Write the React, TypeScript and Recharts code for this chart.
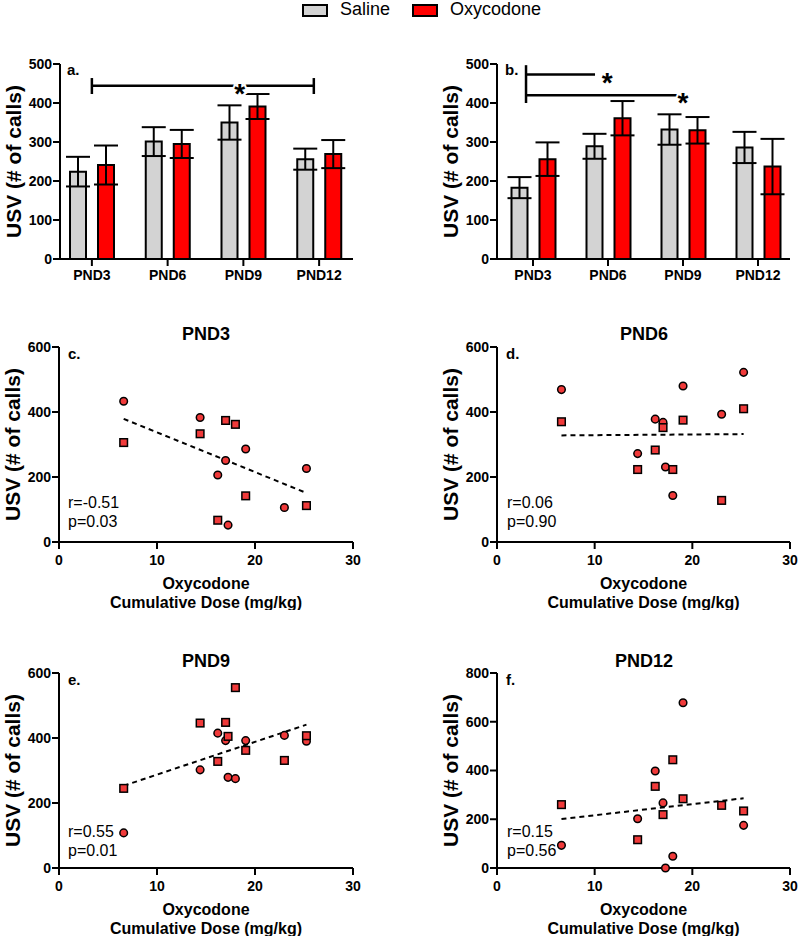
import React from 'react';
import {
  BarChart,
  Bar,
  ErrorBar,
  XAxis,
  YAxis,
  ReferenceLine,
  ReferenceDot,
  ScatterChart,
  Scatter,
} from 'recharts';

const FONT = '"Liberation Sans", Arial, Helvetica, sans-serif';
const GREY = '#d3d3d3';
const RED = '#ff0000';
const DOT_RED = '#f03a3a';

// bar panels
const days = ['PND3', 'PND6', 'PND9', 'PND12'];
const salineA = [224, 301, 350, 256];
const salineErrA = [38, 37, 44, 27];
const oxyA = [241, 295, 391, 269];
const oxyErrA = [50, 36, 32, 36];
const salineB = [183, 289, 332, 286];
const salineErrB = [27, 32, 39, 40];
const oxyB = [256, 361, 330, 237];
const oxyErrB = [43, 44, 34, 71];
const barTicks = [0, 100, 200, 300, 400, 500];

// scatter panels: one dose per litter, circles and squares share the doses
const doses = [6.6, 14.4, 16.2, 17.0, 17.25, 18.0, 19.05, 23.0, 25.25];
const pnd3Circles = [433, 383, 206, 251, 52, null, 286, 106, 226];
const pnd3Squares = [306, 333, 67, 374, null, 362, 142, null, 112];
const pnd6Circles = [469, 272, 378, 368, 231, 143, 480, 393, 522];
const pnd6Squares = [370, 223, 283, 352, null, 223, 375, 128, 410];
const pnd9Circles = [108, 302, 415, 392, 279, 275, 392, 408, 390];
const pnd9Squares = [245, 446, 328, 448, 405, 555, 362, 331, 407];
const pnd12Circles = [93, 202, 398, 267, 0, 48, 678, null, 175];
const pnd12Squares = [260, 116, 335, 219, null, 444, 284, 257, 234];
const pnd3Fit = [[6.6, 379], [25.25, 151]];
const pnd6Fit = [[6.6, 328], [25.25, 332]];
const pnd9Fit = [[6.6, 253], [25.25, 441]];
const pnd12Fit = [[6.6, 201], [25.25, 286]];
const doseTicks = [0, 10, 20, 30];

const axisLine = { stroke: '#000', strokeWidth: 2 };
const tickStyle = { fill: '#000', fontSize: 14, fontWeight: 700, fontFamily: FONT };

const Txt = ({ x, y, size, bold, center, children }: any) => (
  <div
    style={{
      position: 'absolute',
      left: x,
      top: y,
      fontSize: size,
      fontWeight: bold ? 700 : 400,
      fontFamily: FONT,
      lineHeight: 1,
      whiteSpace: 'nowrap',
      color: '#000',
      transform: center ? 'translate(-50%, -50%)' : 'translateY(-50%)',
    }}
  >
    {children}
  </div>
);

const yLabel = (props: any) => {
  const vb = props.viewBox;
  const cx = vb.x + vb.width - 47;
  const cy = vb.y + vb.height / 2;
  return (
    <text
      x={cx}
      y={cy}
      transform={`rotate(-90 ${cx} ${cy})`}
      textAnchor="middle"
      dominantBaseline="central"
      fontFamily={FONT}
      fontWeight={700}
      fontSize={21}
      fill="#000"
    >
      USV (# of calls)
    </text>
  );
};

const doseLabel = (props: any) => {
  const vb = props.viewBox;
  const cx = vb.x + vb.width / 2;
  return (
    <text textAnchor="middle" fontFamily={FONT} fontWeight={700} fontSize={16} fill="#000">
      <tspan x={cx} y={vb.y + 47}>Oxycodone</tspan>
      <tspan x={cx} y={vb.y + 66}>Cumulative Dose (mg/kg)</tspan>
    </text>
  );
};

const Star = (props: any) => (
  <text
    x={props.cx}
    y={props.cy + 17}
    textAnchor="middle"
    fontFamily={FONT}
    fontWeight={700}
    fontSize={28}
    fill="#000"
    stroke="#fff"
    strokeWidth={4}
    paintOrder="stroke"
  >
    *
  </text>
);

interface BarPanelProps {
  left: number;
  axisWidth: number;
  right: number;
  pad: { left: number; right: number };
  saline: number[];
  salineErr: number[];
  oxy: number[];
  oxyErr: number[];
  lines: { from: number; to: number; y: number }[];
  caps: { x: number; y1: number; y2: number }[];
  stars: { x: number; y: number }[];
}

const BarPanel = ({ left, axisWidth, right, pad, saline, salineErr, oxy, oxyErr, lines, caps, stars }: BarPanelProps) => {
  const data = days.map((d, i) => ({
    day: d,
    idx: i,
    saline: saline[i],
    salineErr: salineErr[i],
    oxy: oxy[i],
    oxyErr: oxyErr[i],
  }));
  return (
    <div style={{ position: 'absolute', left, top: 40 }}>
      <BarChart width={400} height={260} data={data} barGap={12} margin={{ top: 24, right, bottom: 11, left: 0 }}>
        <XAxis
          dataKey="day"
          padding={pad}
          axisLine={axisLine}
          tickLine={axisLine}
          tickSize={7}
          tickMargin={4}
          tick={tickStyle}
          interval={0}
          height={30}
        />
        <XAxis xAxisId="pos" dataKey="idx" type="number" domain={[-0.5, 3.5]} allowDataOverflow padding={pad} hide />
        <YAxis
          width={axisWidth}
          domain={[0, 500]}
          ticks={barTicks}
          interval={0}
          axisLine={axisLine}
          tickLine={axisLine}
          tickSize={7}
          tickMargin={1}
          tick={tickStyle}
          label={yLabel}
        />
        <Bar dataKey="saline" fill={GREY} stroke="#000" strokeWidth={2} barSize={16} isAnimationActive={false}>
          <ErrorBar dataKey="salineErr" direction="y" width={12} stroke="#000" strokeWidth={2} />
        </Bar>
        <Bar dataKey="oxy" fill={RED} stroke="#000" strokeWidth={2} barSize={16} isAnimationActive={false}>
          <ErrorBar dataKey="oxyErr" direction="y" width={12} stroke="#000" strokeWidth={2} />
        </Bar>
        {lines.map((l, i) => (
          <ReferenceLine
            key={`l${i}`}
            xAxisId="pos"
            segment={[{ x: l.from, y: l.y }, { x: l.to, y: l.y }]}
            stroke="#000"
            strokeWidth={2.5}
          />
        ))}
        {caps.map((c, i) => (
          <ReferenceLine
            key={`c${i}`}
            xAxisId="pos"
            segment={[{ x: c.x, y: c.y1 }, { x: c.x, y: c.y2 }]}
            stroke="#000"
            strokeWidth={2.5}
          />
        ))}
        {stars.map((s, i) => (
          <ReferenceDot key={`s${i}`} xAxisId="pos" x={s.x} y={s.y} r={0} shape={Star} />
        ))}
      </BarChart>
    </div>
  );
};

const DotShape = (p: any) => (
  <circle cx={p.cx} cy={p.cy} r={3.8} fill={DOT_RED} stroke="#000" strokeWidth={1.5} />
);
const SquareShape = (p: any) => (
  <rect x={p.cx - 3.8} y={p.cy - 3.8} width={7.6} height={7.6} fill={DOT_RED} stroke="#000" strokeWidth={1.5} />
);

interface ScatterPanelProps {
  left: number;
  top: number;
  axisWidth: number;
  right: number;
  yMax: number;
  yTicks: number[];
  circles: (number | null)[];
  squares: (number | null)[];
  fit: number[][];
}

const toPoints = (vals: (number | null)[]) =>
  doses.map((d, i) => ({ dose: d, usv: vals[i] })).filter((p) => p.usv !== null);

const ScatterPanel = ({ left, top, axisWidth, right, yMax, yTicks, circles, squares, fit }: ScatterPanelProps) => (
  <div style={{ position: 'absolute', left, top }}>
    <ScatterChart width={400} height={310} margin={{ top: 47, right, bottom: 0, left: 0 }}>
      <XAxis
        type="number"
        dataKey="dose"
        domain={[0, 30]}
        ticks={doseTicks}
        interval={0}
        axisLine={axisLine}
        tickLine={axisLine}
        tickSize={7}
        tickMargin={6}
        tick={tickStyle}
        height={68}
        label={doseLabel}
      />
      <YAxis
        type="number"
        dataKey="usv"
        width={axisWidth}
        domain={[0, yMax]}
        ticks={yTicks}
        interval={0}
        axisLine={axisLine}
        tickLine={axisLine}
        tickSize={7}
        tickMargin={1}
        tick={tickStyle}
        label={yLabel}
      />
      <ReferenceLine
        segment={[{ x: fit[0][0], y: fit[0][1] }, { x: fit[1][0], y: fit[1][1] }]}
        stroke="#000"
        strokeWidth={2}
        strokeDasharray="5 4"
      />
      <Scatter data={toPoints(circles)} shape={DotShape} isAnimationActive={false} />
      <Scatter data={toPoints(squares)} shape={SquareShape} isAnimationActive={false} />
    </ScatterChart>
  </div>
);

export default function App() {
  return (
    <div style={{ position: 'relative', width: 800, height: 936, background: '#fff', overflow: 'hidden', fontFamily: FONT }}>
      <style>{'body{margin:0}'}</style>

      {/* legend */}
      <div style={{ position: 'absolute', left: 302, top: 4, width: 22, height: 9, background: GREY, border: '2px solid #000' }} />
      <Txt x={340} y={9} size={18}>Saline</Txt>
      <div style={{ position: 'absolute', left: 412, top: 4, width: 22, height: 9, background: RED, border: '2px solid #000' }} />
      <Txt x={450} y={9} size={18}>Oxycodone</Txt>

      <BarPanel
        left={0}
        axisWidth={60}
        right={47}
        pad={{ left: -6, right: -4 }}
        saline={salineA}
        salineErr={salineErrA}
        oxy={oxyA}
        oxyErr={oxyErrA}
        lines={[{ from: 0, to: 2.93, y: 444 }]}
        caps={[{ x: 0, y1: 423, y2: 464 }, { x: 2.93, y1: 423, y2: 464 }]}
        stars={[{ x: 1.95, y: 444 }]}
      />
      <BarPanel
        left={400}
        axisWidth={97}
        right={10}
        pad={{ left: -1.5, right: -5.5 }}
        saline={salineB}
        salineErr={salineErrB}
        oxy={oxyB}
        oxyErr={oxyErrB}
        lines={[{ from: -0.093, to: 0.827, y: 473 }, { from: -0.093, to: 1.92, y: 420 }]}
        caps={[{ x: -0.093, y1: 400, y2: 497 }]}
        stars={[{ x: 0.99, y: 473 }, { x: 2.0, y: 420 }]}
      />
      <Txt x={67} y={69} size={15} bold>a.</Txt>
      <Txt x={505} y={69} size={15} bold>b.</Txt>

      <ScatterPanel left={0} top={300} axisWidth={59} right={47} yMax={600} yTicks={[0, 200, 400, 600]} circles={pnd3Circles} squares={pnd3Squares} fit={pnd3Fit} />
      <ScatterPanel left={400} top={300} axisWidth={97} right={10} yMax={600} yTicks={[0, 200, 400, 600]} circles={pnd6Circles} squares={pnd6Squares} fit={pnd6Fit} />
      <ScatterPanel left={0} top={626} axisWidth={59} right={47} yMax={600} yTicks={[0, 200, 400, 600]} circles={pnd9Circles} squares={pnd9Squares} fit={pnd9Fit} />
      <ScatterPanel left={400} top={626} axisWidth={97} right={10} yMax={800} yTicks={[0, 200, 400, 600, 800]} circles={pnd12Circles} squares={pnd12Squares} fit={pnd12Fit} />

      <Txt x={206} y={334} size={18} bold center>PND3</Txt>
      <Txt x={644} y={334} size={18} bold center>PND6</Txt>
      <Txt x={206} y={661} size={18} bold center>PND9</Txt>
      <Txt x={644} y={661} size={18} bold center>PND12</Txt>

      <Txt x={68} y={353} size={15} bold>c.</Txt>
      <Txt x={506} y={353} size={15} bold>d.</Txt>
      <Txt x={68} y={679} size={15} bold>e.</Txt>
      <Txt x={506} y={679} size={15} bold>f.</Txt>

      <Txt x={68} y={503} size={16}>r=-0.51</Txt>
      <Txt x={68} y={522} size={16}>p=0.03</Txt>
      <Txt x={507} y={503} size={16}>r=0.06</Txt>
      <Txt x={507} y={522} size={16}>p=0.90</Txt>
      <Txt x={68} y={832} size={16}>r=0.55</Txt>
      <Txt x={68} y={851} size={16}>p=0.01</Txt>
      <Txt x={507} y={832} size={16}>r=0.15</Txt>
      <Txt x={507} y={851} size={16}>p=0.56</Txt>
    </div>
  );
}
